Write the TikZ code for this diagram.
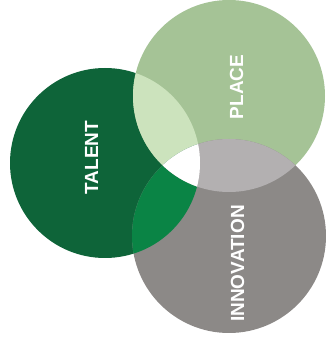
\documentclass[tikz,border=0pt]{standalone}
\usepackage{fontspec}
\setmainfont{Liberation Sans}
\definecolor{talentColor}{HTML}{0E6439}
\definecolor{placeColor}{HTML}{A5C396}
\definecolor{innoColor}{HTML}{8C8987}
\definecolor{tpColor}{HTML}{CCE3BD}
\definecolor{tiColor}{HTML}{0A8445}
\definecolor{piColor}{HTML}{B3B0B1}
\tikzset{label text/.style={white,font=\fontsize{19}{19}\selectfont\bfseries,rotate=90}}

\begin{document}
\begin{tikzpicture}[x=1pt,y=1pt]
				\useasboundingbox (0,0) rectangle (326,348);
				\coordinate (T) at (105,185);
				\coordinate (P) at (229,252);
				\coordinate (I) at (229,112);
				\fill [talentColor] (T) circle (95);
				\fill [placeColor] (P) circle (96);
				\fill [innoColor] (I) circle (97);
				
				% overlaps
				\begin{scope}
				\clip (T) circle (95);
				\fill [tpColor] (P) circle (96);
				\fill [tiColor] (I) circle (97);
				\end{scope}
				\begin{scope}
				\clip (P) circle (96);
				\fill [piColor] (I) circle (97);
				\clip (I) circle (97);
				\fill [white] (T) circle (95);
				\end{scope}
				
				\node [label text] (talent) at (91.5,190.5) {TALENT};
				\node [label text] (place) at (236.5,261) {PLACE};
				\node [label text] (innovation) at (237.5,84.5) {INNOVATION};
				\end{tikzpicture}
\end{document}
